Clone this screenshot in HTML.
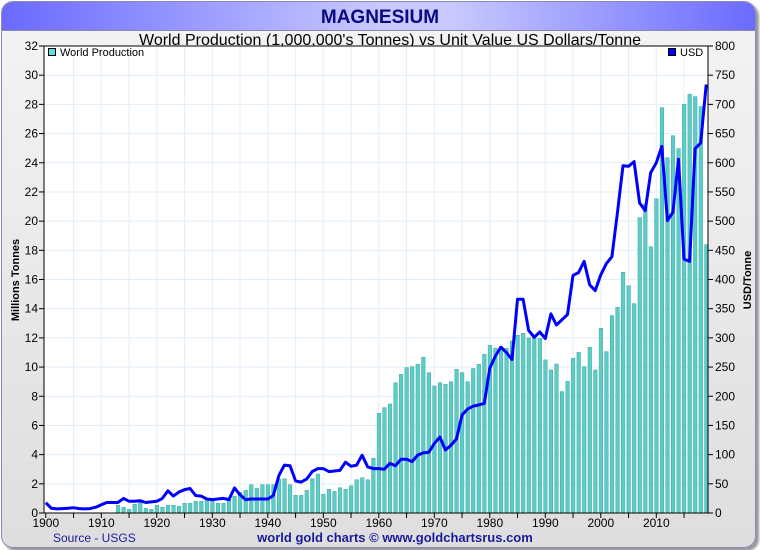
<!DOCTYPE html>
<html><head><meta charset="utf-8">
<style>
html,body{margin:0;padding:0;width:760px;height:550px;overflow:hidden;background:#fff;font-family:"Liberation Sans",sans-serif;}
#frame{position:absolute;left:1px;top:1px;width:753px;height:545px;border:1px solid #8a8ab8;border-radius:12px;background:linear-gradient(#f4f4f4,#dedede);overflow:hidden;box-shadow:3px 3px 2px #999;}
#hdr{position:absolute;left:0;top:0;width:753px;height:28px;background:linear-gradient(90deg,#6a6aff 0%,#c8c8ff 50%,#c8c8ff 60%,#6a6aff 100%);border-bottom:1px solid #8888aa;}
svg{position:absolute;left:0;top:0;}
</style></head>
<body>
<div id="frame"><div id="hdr"></div></div>
<svg id="chart" width="760" height="550">
<text x="380" y="23" text-anchor="middle" font-size="19" font-weight="bold" fill="#0a0a80">MAGNESIUM</text>
<text x="390" y="45" text-anchor="middle" font-size="16" fill="#000">World Production (1,000,000's Tonnes) vs Unit Value US Dollars/Tonne</text>
<rect x="44" y="46" width="664" height="467" fill="#fff"/>
<g id="grid"></g><g id="bars"></g><g id="line"></g><g id="axes"></g>
<rect x="44" y="46" width="664" height="467" fill="none" stroke="#000" stroke-width="1"/>
<g><rect x="48.5" y="48.5" width="7" height="7" fill="#5fe0e0" stroke="#000"/><text x="60" y="56" font-size="11">World Production</text></g>
<g><rect x="668.5" y="48.5" width="7" height="7" fill="#0000ff" stroke="#000"/><text x="680" y="56" font-size="11">USD</text></g>
<text transform="translate(19,280) rotate(-90)" text-anchor="middle" font-size="11" font-weight="bold">Millions Tonnes</text>
<text transform="translate(751,280) rotate(-90)" text-anchor="middle" font-size="11" font-weight="bold">USD/Tonne</text>
<text x="53" y="542" font-size="12" fill="#1a1a9a">Source - USGS</text>
<text x="395" y="542" text-anchor="middle" font-size="13" font-weight="bold" fill="#1a1a9a">world gold charts © www.goldchartsrus.com</text>
</svg>
<script>
const prodYears=[1913,1914,1915,1916,1917,1918,1919,1920,1921,1922,1923,1924,1925,1926,1927,1928,1929,1930,1931,1932,1933,1934,1935,1936,1937,1938,1939,1940,1941,1942,1943,1944,1945,1946,1947,1948,1949,1950,1951,1952,1953,1954,1955,1956,1957,1958,1959,1960,1961,1962,1963,1964,1965,1966,1967,1968,1969,1970,1971,1972,1973,1974,1975,1976,1977,1978,1979,1980,1981,1982,1983,1984,1985,1986,1987,1988,1989,1990,1991,1992,1993,1994,1995,1996,1997,1998,1999,2000,2001,2002,2003,2004,2005,2006,2007,2008,2009,2010,2011,2012,2013,2014,2015,2016,2017,2018,2019];
const production=[0.53,0.39,0.25,0.6,0.7,0.32,0.25,0.53,0.39,0.53,0.53,0.46,0.66,0.66,0.8,0.8,0.94,0.8,0.66,0.66,0.94,1.14,1.42,1.55,1.94,1.69,1.94,1.94,1.94,2.3,2.35,1.94,1.21,1.21,1.55,2.35,2.67,1.28,1.62,1.48,1.73,1.62,1.87,2.28,2.42,2.28,3.75,6.83,7.22,7.47,8.93,9.5,9.96,10.03,10.19,10.67,9.62,8.7,8.93,8.82,9.0,9.85,9.62,9.0,9.9,10.19,10.87,11.49,11.3,11.4,11.28,11.79,12.18,12.31,12.0,12.0,11.97,10.49,9.8,10.21,8.32,9.02,10.6,11.01,10.03,11.35,9.8,12.66,11.06,13.53,14.1,16.5,15.58,14.35,20.24,21.16,18.25,21.54,27.78,24.35,25.86,24.97,28.0,28.7,28.53,27.85,18.39];
const priceStartYear=1900;
const usdPrice=[17.7,8,7,7.5,8,9,7.5,7,7.5,10,14,18,18,18,25,20,20,21,18,19,20,25,38,29,36,40,42,30,29,24,23,24,25,23,43,31,23,24,24,24,24,30,64,82,81,55,53,58,71,76,76,71,72,73,87,80,82,99,79,76,76,75,85,81,92,92,88,99,103,104,119,130,108,116,127,168,178,183,185,188,248,269,284,275,263,366,366,313,301,310,299,341,322,331,340,407,412,431,391,381,408,427,439,514,595,594,602,531,518,583,600,628,501,515,606,435,431,624,634,734];
const leftTicks=[0,2,4,6,8,10,12,14,16,18,20,22,24,26,28,30,32];
const rightTicks=[0,50,100,150,200,250,300,350,400,450,500,550,600,650,700,750,800];
const yearLabels=[1900,1910,1920,1930,1940,1950,1960,1970,1980,1990,2000,2010];

const NS="http://www.w3.org/2000/svg";
const X0=44,X1=708,Y0=513,Y1=46;
const xs=y=>45.8+(y-1900)*5.55;
const yl=v=>Y0-(v/32)*(Y0-Y1);
const yr=v=>Y0-(v/800)*(Y0-Y1);
function mk(tag,attrs,parent){const e=document.createElementNS(NS,tag);for(const k in attrs)e.setAttribute(k,attrs[k]);parent.appendChild(e);return e;}
const grid=document.getElementById('grid'),bars=document.getElementById('bars'),line=document.getElementById('line'),axes=document.getElementById('axes');
for(let yy=1905;yy<=2015;yy+=5){const l=mk('line',{x1:xs(yy),x2:xs(yy),y1:Y1,y2:Y0,stroke:'#e2eef8','stroke-width':1},grid);

}
leftTicks.forEach(v=>{if(v>0&&v<32){const l=mk('line',{x1:X0,x2:X1,y1:yl(v),y2:yl(v),stroke:'#e2eef8','stroke-width':1},grid);

}
const t=mk('line',{x1:X0-5,x2:X0,y1:yl(v),y2:yl(v),stroke:'#000'},axes);


const tx=mk('text',{x:X0-6,y:yl(v)+4,'text-anchor':'end','font-size':12},axes);tx.textContent=v;

});
rightTicks.forEach(v=>{const t=mk('line',{x1:X1,x2:X1+5,y1:yr(v),y2:yr(v),stroke:'#000'},axes);


const tx=mk('text',{x:X1+7,y:yr(v)+4,'font-size':12},axes);tx.textContent=v;

});
for(let yy=1900;yy<=2015;yy+=5){const t=mk('line',{x1:xs(yy),x2:xs(yy),y1:Y0,y2:Y0+5,stroke:'#000'},axes);

}
yearLabels.forEach(yy=>{const tx=mk('text',{x:xs(yy),y:527,'text-anchor':'middle','font-size':12},axes);tx.textContent=yy;

});
prodYears.forEach((yy,i)=>{const top=yl(production[i]);const b=mk('rect',{x:xs(yy)-1.7,y:top,width:3.6,height:Y0-top,fill:'#5ccdc6',stroke:'#3fa8a2','stroke-width':0.5},bars);

});
const pts=usdPrice.map((v,i)=>xs(priceStartYear+i).toFixed(1)+','+yr(v).toFixed(1)).join(' ');
const pl=mk('polyline',{points:pts,fill:'none',stroke:'#0000ff','stroke-width':3,'stroke-linejoin':'round'},line);


</script>
</body></html>
